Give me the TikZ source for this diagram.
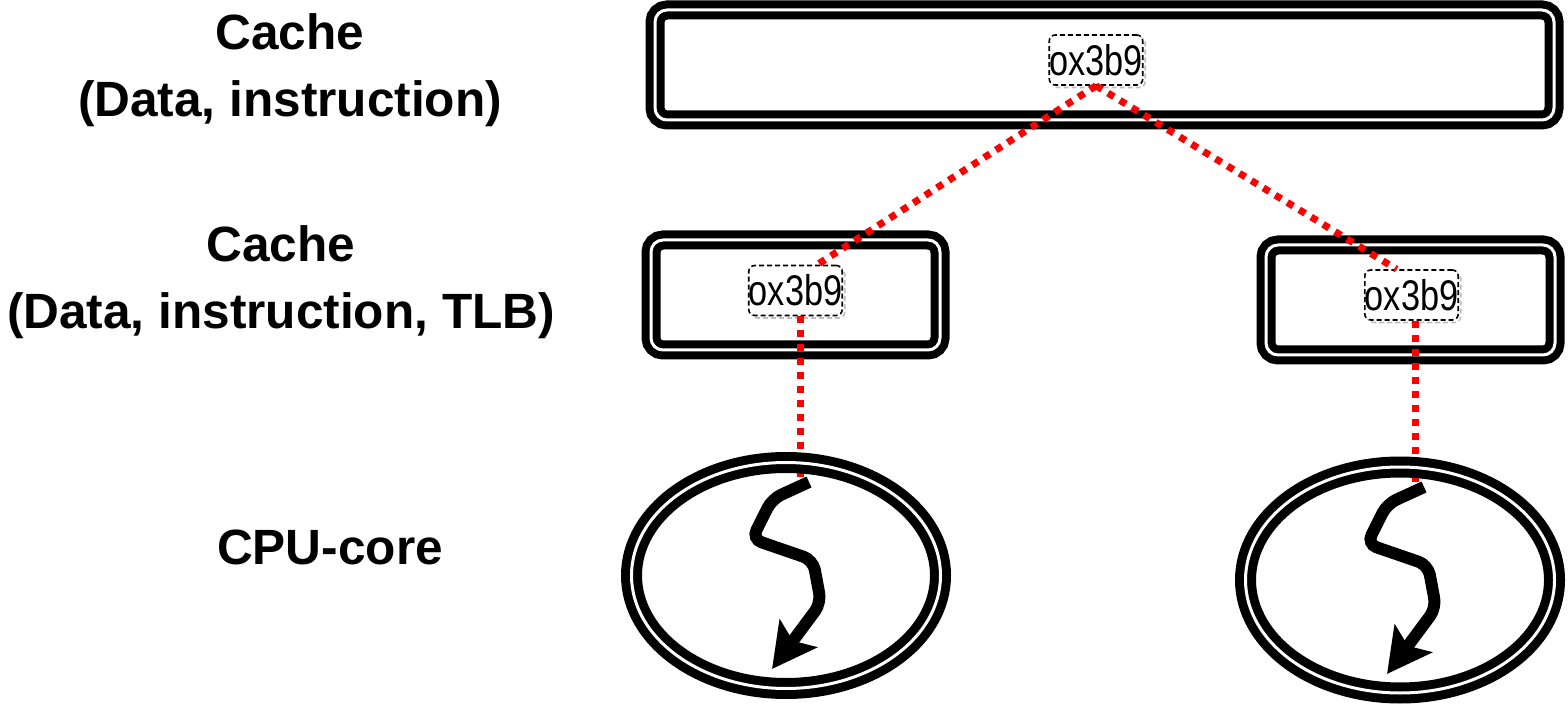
\documentclass[tikz,border=0pt]{standalone}
\usepackage{fontspec}
\setmainfont{Liberation Sans}
\newfontfamily\addrfont[FakeStretch=0.8]{Liberation Sans}
\usetikzlibrary{shapes.geometric, arrows.meta}

\begin{document}
\begin{tikzpicture}[
    cache/.style={rectangle, draw=black, fill=white, line width=0.8mm, double=white, double distance=0.3mm, rounded corners=1.2mm, minimum height=1.1cm, inner sep=0pt, preaction={draw=black!40, transform canvas={shift={(0.3mm,-0.3mm)}}}},
    addr/.style={rectangle, draw=black, fill=white, line width=0.45pt, dash pattern=on 0.5mm off 0.3mm, rounded corners=0.6mm, minimum width=0.92cm, minimum height=0.5cm, inner sep=0pt, font=\addrfont\fontsize{12.2}{14}\selectfont, preaction={draw=black!25, transform canvas={shift={(0.25mm,-0.25mm)}}}},
    core/.style={ellipse, draw=black, line width=0.9mm, double=white, double distance=0.3mm, minimum width=3.09cm, minimum height=2.26cm, inner sep=0pt, preaction={draw=black!40, transform canvas={shift={(0.3mm,-0.3mm)}}}},
    level/.style={align=center, font=\bfseries\fontsize{14.1}{19}\selectfont},
    hop/.style={draw=red, line width=0.7mm, dash pattern=on 0.7mm off 0.7mm},
    flow/.style={line width=1.2mm, rounded corners=1mm, -{Stealth[length=4.4mm, width=4.6mm, inset=0.9mm]}}
]
\useasboundingbox (0,0) rectangle (15.68,7.10);

% Level labels
\node[level] (lvlShared) at (2.90,6.40) {Cache\\(Data, instruction)};
\node[level] (lvlPrivate) at (2.81,4.275) {Cache\\(Data, instruction, TLB)};
\node[level] (lvlCore) at (3.30,1.63) {CPU-core};

% Caches
\node[cache, minimum width=8.99cm] (cacheT) at (11.045,6.45) {};
\node[cache, minimum width=2.89cm] (cacheL) at (7.955,4.15) {};
\node[cache, minimum width=2.89cm] (cacheR) at (14.105,4.10) {};

% Cached line
\node[addr] (addrT) at (10.96,6.50) {ox3b9};
\node[addr] (addrL) at (7.955,4.195) {ox3b9};
\node[addr] (addrR) at (14.115,4.15) {ox3b9};

% Threads
\coordinate (dropL) at (8.00,2.28);
\coordinate (dropR) at (14.15,2.23);
\draw[flow] ([xshift=0.9mm]dropL) -- +(-0.37,-0.17) -- +(-0.57,-0.57) -- +(0.04,-0.78) -- +(0.12,-1.21) -- +(-0.37,-1.87);
\draw[flow] ([xshift=0.9mm]dropR) -- +(-0.37,-0.17) -- +(-0.57,-0.57) -- +(0.04,-0.78) -- +(0.12,-1.21) -- +(-0.37,-1.87);

% Copies
\draw[hop] (addrT.south) -- (addrL.50);
\draw[hop] (addrT.south) -- (addrR.120);
\draw[hop] (addrL.south -| dropL) -- (dropL);
\draw[hop] (addrR.south -| dropR) -- (dropR);

% Cores
\node[core] (coreL) at (7.86,1.345) {};
\node[core] (coreR) at (14.00,1.30) {};

\end{tikzpicture}
\end{document}
